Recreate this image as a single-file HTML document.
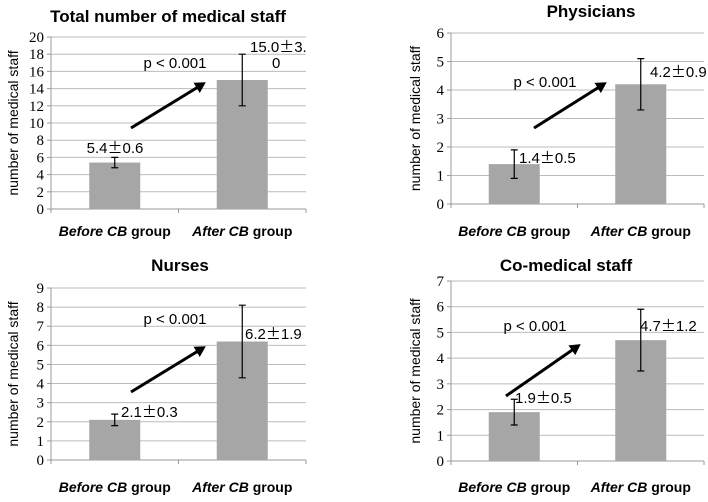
<!DOCTYPE html>
<html><head><meta charset="utf-8"><style>
body{margin:0;background:#fff}
.tick{font-family:"Liberation Serif","Times New Roman","DejaVu Serif",serif !important}
.pm{font-family:"Noto Sans CJK JP","WenQuanYi Zen Hei",sans-serif}
</style></head><body>
<svg id="c" width="708" height="497" xmlns="http://www.w3.org/2000/svg" font-family="Liberation Sans, sans-serif">
<defs><marker id="ah" markerWidth="5" markerHeight="5" refX="2.5" refY="2" orient="auto" markerUnits="strokeWidth"><path d="M0,0 L3.6,2 L0,4 Z" fill="#000"/></marker></defs>
</svg>
<script>
const titles=["Total number of medical staff","Physicians","Nurses","Co-medical staff"];
const yMax=[20,6,9,7];
const yStep=[2,1,1,1];
const beforeMean=[5.4,1.4,2.1,1.9];
const beforeSd=[0.6,0.5,0.3,0.5];
const afterMean=[15.0,4.2,6.2,4.7];
const afterSd=[3.0,0.9,1.9,1.2];
const beforeLabels=["5.4±0.6","1.4±0.5","2.1±0.3","1.9±0.5"];
const afterLabels=["15.0±3.","4.2±0.9","6.2±1.9","4.7±1.2"];
const categories=["Before CB group","After CB group"];
const pLabel="p < 0.001";
const layout=[
 {l:51,r:306,t:37,b:209,tx:168,ty:22,xl:236,yt:8,ar:[131,128,203,84],pl:[175,68],bl:[115,153,"middle"],al:[250,52,"start"],al2:[272,68]},
 {l:451,r:704,t:33,b:204,tx:591,ty:17,xl:236,yt:410,ar:[534,128,604,84],pl:[545,87],bl:[519,163,"start"],al:[650,77,"start"]},
 {l:51,r:306,t:288,b:460,tx:180,ty:271,xl:492,yt:8,ar:[131,392,203,348],pl:[175,324],bl:[121,417,"start"],al:[245,339,"start"]},
 {l:451,r:704,t:281,b:461,tx:566,ty:271,xl:492,yt:410,ar:[506,396,578,346],pl:[535,331],bl:[515,403,"start"],al:[640,331,"start"]}
];
const svg=document.getElementById('c');const NS="http://www.w3.org/2000/svg";
function mk(tag,attrs,parent){const e=document.createElementNS(NS,tag);for(const k in attrs)e.setAttribute(k,attrs[k]);(parent||svg).appendChild(e);return e;}
function txt(s,x,y,attrs,parent){const e=mk('text',Object.assign({x:x,y:y},attrs),parent);e.textContent=s;return e;}
function valText(s,x,y,anchor,parent){
 const e=mk('text',{x:x,y:y,'text-anchor':anchor,'font-size':'15'},parent);
 const p=s.split('±');
 const a=mk('tspan',{},e);a.textContent=p[0];
 const b=mk('tspan',{class:'pm'},e);b.textContent='±';
 const c=mk('tspan',{},e);c.textContent=p[1];
 return e;
}
for(let i=0;i<4;i++){
 const L=layout[i];
 const g=mk('g',{});
 
 
 const ys=v=>L.b-(v/yMax[i])*(L.b-L.t);
 const cw=(L.r-L.l)/2;
 const xc=k=>L.l+cw*(k+0.5);
 const t=txt(titles[i],L.tx,L.ty,{'text-anchor':'middle','font-size':'17','font-weight':'bold'},g);
 
 
 for(let v=0;v<=yMax[i];v+=yStep[i]){
  const y=ys(v);
  const gl=mk('line',{x1:L.l,x2:L.r,y1:y,y2:y,stroke:v===0?'#999':'#bbb','stroke-width':1},g);
  
  
  mk('line',{x1:L.l-4,x2:L.l,y1:y,y2:y,stroke:'#999'},g);
  const tl=txt(String(v),L.l-7,y+5,{'text-anchor':'end','font-size':'15',class:'tick','font-family':'Liberation Serif, DejaVu Serif, serif'},g);
  
  
 }
 mk('line',{x1:L.l,x2:L.l,y1:L.t,y2:L.b,stroke:'#999'},g);
 for(let k=0;k<=2;k++)mk('line',{x1:L.l+cw*k,x2:L.l+cw*k,y1:L.b,y2:L.b+4,stroke:'#999'},g);
 const yt=txt('number of medical staff',0,0,{'text-anchor':'middle','font-size':'14',transform:`translate(${L.yt+10},${(L.t+L.b)/2}) rotate(-90)`},g);
 
 
 const means=[beforeMean[i],afterMean[i]],sds=[beforeSd[i],afterSd[i]];
 for(let k=0;k<2;k++){
  const x=xc(k),y=ys(means[k]);
  const bar=mk('rect',{x:x-25.5,y:y,width:51,height:L.b-y,fill:'#a6a6a6'},g);
  
  
  const y1=ys(means[k]+sds[k]),y2=ys(means[k]-sds[k]);
  const eb=mk('path',{d:`M${x},${y1}V${y2}M${x-3.5},${y1}H${x+3.5}M${x-3.5},${y2}H${x+3.5}`,stroke:'#000','stroke-width':1.2,fill:'none'},g);
  
  
  const cl=txt('',xc(k),L.xl,{'text-anchor':'middle','font-size':'14','font-weight':'bold'},g);
  const parts=categories[k].split(' CB ');
  const a=mk('tspan',{'font-style':'italic'},cl);a.textContent=parts[0]+' CB ';
  const b=mk('tspan',{},cl);b.textContent=parts[1];
  
  
 }
 const bl=valText(beforeLabels[i],L.bl[0],L.bl[1],L.bl[2],g);
 
 
 const al=valText(afterLabels[i],L.al[0],L.al[1],L.al[2],g);
 
 
 if(L.al2){const a2=txt('0',L.al2[0],L.al2[1],{'font-size':'15'},g);
  
  }
 const ar=mk('line',{x1:L.ar[0],y1:L.ar[1],x2:L.ar[2],y2:L.ar[3],stroke:'#000','stroke-width':3,'marker-end':'url(#ah)'},g);
 
 
 const pl=txt(pLabel,L.pl[0],L.pl[1],{'text-anchor':'middle','font-size':'15'},g);
 
 
}
</script>
</body></html>
